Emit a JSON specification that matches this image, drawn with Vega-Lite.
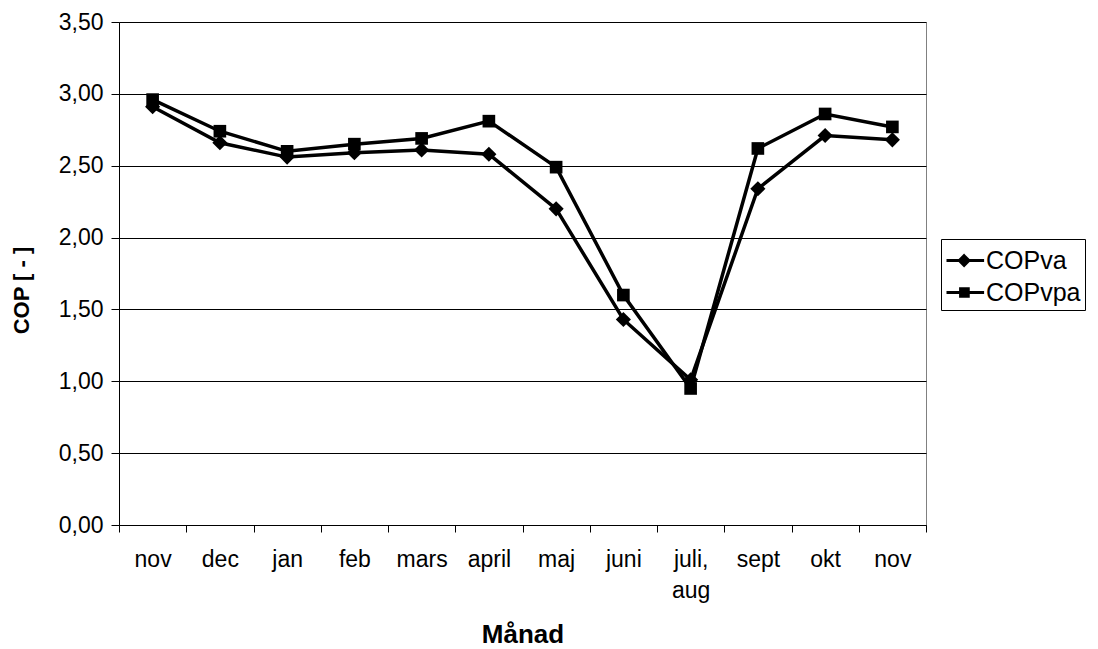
{
  "$schema": "https://vega.github.io/schema/vega-lite/v6.json",
  "width": 807,
  "height": 503,
  "autosize": {"type": "none"},
  "padding": {"left": 119, "top": 22, "right": 172, "bottom": 124},
  "background": "white",
  "config": {
    "font": "Liberation Sans",
    "view": {"stroke": "#808080", "strokeWidth": 1},
    "axis": {"labelFont": "Liberation Sans", "titleFont": "Liberation Sans", "labelColor": "black", "titleColor": "black"}
  },
  "data": {
    "values": [
      {"m": "nov1", "series": "COPva", "v": 2.91},
      {"m": "dec", "series": "COPva", "v": 2.66},
      {"m": "jan", "series": "COPva", "v": 2.56},
      {"m": "feb", "series": "COPva", "v": 2.59},
      {"m": "mars", "series": "COPva", "v": 2.61},
      {"m": "april", "series": "COPva", "v": 2.58},
      {"m": "maj", "series": "COPva", "v": 2.20},
      {"m": "juni", "series": "COPva", "v": 1.43},
      {"m": "juli, aug", "series": "COPva", "v": 1.01},
      {"m": "sept", "series": "COPva", "v": 2.34},
      {"m": "okt", "series": "COPva", "v": 2.71},
      {"m": "nov2", "series": "COPva", "v": 2.68},
      {"m": "nov1", "series": "COPvpa", "v": 2.96},
      {"m": "dec", "series": "COPvpa", "v": 2.74},
      {"m": "jan", "series": "COPvpa", "v": 2.60},
      {"m": "feb", "series": "COPvpa", "v": 2.65},
      {"m": "mars", "series": "COPvpa", "v": 2.69},
      {"m": "april", "series": "COPvpa", "v": 2.81},
      {"m": "maj", "series": "COPvpa", "v": 2.49},
      {"m": "juni", "series": "COPvpa", "v": 1.60},
      {"m": "juli, aug", "series": "COPvpa", "v": 0.95},
      {"m": "sept", "series": "COPvpa", "v": 2.62},
      {"m": "okt", "series": "COPvpa", "v": 2.86},
      {"m": "nov2", "series": "COPvpa", "v": 2.77}
    ]
  },
  "encoding": {
    "x": {
      "field": "m",
      "type": "ordinal",
      "sort": ["nov1", "dec", "jan", "feb", "mars", "april", "maj", "juni", "juli, aug", "sept", "okt", "nov2"],
      "scale": {"type": "band", "paddingInner": 0, "paddingOuter": 0},
      "axis": {
        "title": "Månad",
        "titleFontSize": 26,
        "titleFontWeight": "bold",
        "titleBaseline": "middle",
        "titleY": 109,
        "labelFontSize": 23,
        "labelAngle": 0,
        "labelPadding": 16,
        "labelBaseline": "top",
        "labelLineHeight": 31,
        "labelExpr": "datum.value == 'juli, aug' ? ['juli,', 'aug'] : (datum.value == 'nov1' || datum.value == 'nov2' ? 'nov' : datum.value)",
        "tickBand": "extent",
        "tickSize": 7,
        "tickColor": "black",
        "domainColor": "black",
        "grid": false
      }
    },
    "y": {
      "field": "v",
      "type": "quantitative",
      "scale": {"domain": [0, 3.5], "nice": false},
      "axis": {
        "title": "COP [ - ]",
        "titleFontSize": 22,
        "titleFontWeight": "bold",
        "titleAngle": 270,
        "titleAlign": "center",
        "titleBaseline": "middle",
        "titleX": -98,
        "titleY": 268,
        "values": [0, 0.5, 1, 1.5, 2, 2.5, 3, 3.5],
        "labelExpr": "replace(format(datum.value, '.2f'), '.', ',')",
        "labelFontSize": 23,
        "labelPadding": 8,
        "tickSize": 8,
        "tickColor": "black",
        "domainColor": "black",
        "gridColor": "black",
        "gridOpacity": 1
      }
    }
  },
  "layer": [
    {
      "mark": {"type": "line", "color": "black", "strokeWidth": 3.5},
      "encoding": {"detail": {"field": "series"}}
    },
    {
      "mark": {"type": "point", "filled": true, "color": "black", "opacity": 1},
      "encoding": {
        "shape": {
          "field": "series",
          "type": "nominal",
          "scale": {"domain": ["COPva", "COPvpa"], "range": ["diamond", "square"]},
          "legend": null
        },
        "size": {
          "field": "series",
          "type": "nominal",
          "scale": {"domain": ["COPva", "COPvpa"], "range": [230, 160]},
          "legend": null
        }
      }
    },
    {
      "mark": {"type": "point", "filled": false, "color": "black", "strokeWidth": 3, "opacity": 0},
      "encoding": {
        "shape": {
          "field": "series",
          "type": "nominal",
          "scale": {"domain": ["COPva", "COPvpa"], "range": ["M-1,0H1.35M0.1,-0.3L0.4,0L0.1,0.3L-0.2,0ZM0.1,-0.15L0.25,0L0.1,0.15L-0.05,0ZM0.1,-0.3V0.3", "M-1,0H1.35M-0.12,-0.24H0.36V0.24H-0.12ZM0.0,-0.12H0.24V0.12H0.0ZM0.12,-0.24V0.24"]},
          "legend": {
            "title": null,
            "orient": "none",
            "legendX": 822,
            "legendY": 217,
            "padding": 4,
            "strokeColor": "black",
            "fillColor": "white",
            "symbolSize": 1024,
            "symbolOpacity": 1,
            "symbolFillColor": "black",
            "symbolStrokeColor": "black",
            "symbolStrokeWidth": 3,
            "labelFontSize": 25,
            "labelFont": "Liberation Sans",
            "labelColor": "black",
            "labelOffset": 6,
            "rowPadding": 1,
            "encode": {
              "symbols": {
                "update": {
                  "stroke": {"value": "black"},
                  "strokeWidth": {"value": 3},
                  "fill": {"value": "black"},
                  "opacity": {"value": 1},
                  "fillOpacity": {"value": 1},
                  "strokeOpacity": {"value": 1}
                }
              }
            }
          }
        }
      }
    }
  ],
  "resolve": {"scale": {"shape": "independent", "size": "independent"}}
}
